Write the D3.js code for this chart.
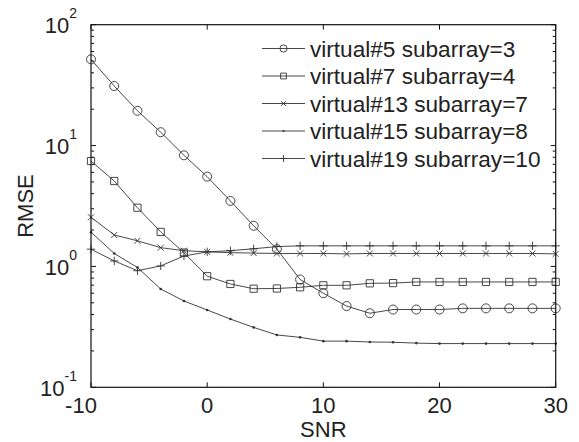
<!DOCTYPE html>
<html>
<head>
<meta charset="utf-8">
<script src="https://cdn.jsdelivr.net/npm/d3@7"></script>
<style>
  body { margin: 0; background: #fff; }
  svg { display: block; }
  text { font-family: "Liberation Sans", Arial, sans-serif; fill: #222; }
</style>
</head>
<body>
<svg id="chart"></svg>
<script>
// SNR values (dB)
const snr = [-10, -8, -6, -4, -2, 0, 2, 4, 6, 8, 10, 12, 14, 16, 18, 20, 22, 24, 26, 28, 30];

const v5s3 = [51.7, 31.1, 19.4, 12.9, 8.31, 5.53, 3.48, 2.17, 1.39, 0.78, 0.6, 0.47, 0.41, 0.44, 0.44, 0.44, 0.45, 0.45, 0.45, 0.45, 0.45];
const v7s4 = [7.45, 5.09, 3.06, 1.93, 1.30, 0.83, 0.716, 0.654, 0.657, 0.672, 0.698, 0.698, 0.725, 0.728, 0.744, 0.744, 0.744, 0.744, 0.744, 0.744, 0.744];
const v13s7 = [2.55, 1.82, 1.63, 1.43, 1.35, 1.32, 1.30, 1.29, 1.28, 1.28, 1.28, 1.27, 1.28, 1.28, 1.28, 1.28, 1.28, 1.28, 1.28, 1.28, 1.27];
const v15s8 = [1.92, 1.28, 0.98, 0.65, 0.518, 0.436, 0.367, 0.313, 0.271, 0.259, 0.241, 0.241, 0.237, 0.236, 0.232, 0.230, 0.230, 0.230, 0.230, 0.230, 0.230];
const v19s10 = [1.39, 1.11, 0.922, 1.01, 1.22, 1.32, 1.35, 1.40, 1.46, 1.48, 1.48, 1.48, 1.48, 1.48, 1.48, 1.48, 1.48, 1.48, 1.48, 1.48, 1.48];

const seriesNames = ['virtual#5 subarray=3', 'virtual#7 subarray=4', 'virtual#13 subarray=7', 'virtual#15 subarray=8', 'virtual#19 subarray=10'];
const seriesValues = [v5s3, v7s4, v13s7, v15s8, v19s10];
const markerKinds = ['circle', 'square', 'cross', 'dot', 'plus'];

const xTicks = [-10, 0, 10, 20, 30];
const yExponents = [-1, 0, 1, 2];

const width = 579;
const height = 442;
const margin = { left: 91, right: 23.3, top: 24.7, bottom: 54.7 };
const ink = '#333';
const fontSize = 22;

const svg = d3.select('#chart').attr('width', width).attr('height', height);

const x = d3.scaleLinear().domain([-10, 30]).range([margin.left, width - margin.right]);
const y = d3.scaleLog().domain([0.1, 100]).range([height - margin.bottom, margin.top]);

const x0 = x.range()[0], x1 = x.range()[1];
const y0 = y.range()[0], y1 = y.range()[1];

// marker shapes, centred on 0,0
const markerPath = (kind, s) => {
	switch (kind) {
		case 'square':
			return `M${-s},${-s}h${2 * s}v${2 * s}h${-2 * s}Z`;
		case 'cross':
			return `M${-s},${-s}L${s},${s}M${-s},${s}L${s},${-s}`;
		case 'plus':
			return `M${-s},0H${s}M0,${-s}V${s}`;
		default:
			return '';
	}
};

const drawMarker = (g, kind, scale) => {
	if (kind === 'circle') {
		g.append('circle').attr('r', 4.5 * scale).attr('fill', 'none').attr('stroke', ink).attr('stroke-width', 0.9);
	} else if (kind === 'dot') {
		g.append('circle').attr('r', 1.3 * scale).attr('fill', ink);
	} else {
		const size = { square: 3.6, cross: 3, plus: 4.2 }[kind] * scale;
		g.append('path').attr('d', markerPath(kind, size)).attr('fill', 'none').attr('stroke', ink).attr('stroke-width', 0.9);
	}
};

// ticks
const axes = svg.append('g').attr('stroke', '#111').attr('stroke-width', 1);

xTicks.forEach((t) => {
	axes.append('line').attr('x1', x(t)).attr('x2', x(t)).attr('y1', y0).attr('y2', y0 - 5);
	axes.append('line').attr('x1', x(t)).attr('x2', x(t)).attr('y1', y1).attr('y2', y1 + 5);
});

yExponents.forEach((e) => {
	const base = Math.pow(10, e);
	axes.append('line').attr('x1', x0).attr('x2', x0 + 5).attr('y1', y(base)).attr('y2', y(base));
	axes.append('line').attr('x1', x1).attr('x2', x1 - 5).attr('y1', y(base)).attr('y2', y(base));
	if (e < 2) {
		for (let m = 2; m <= 9; m++) {
			const v = m * base;
			axes.append('line').attr('x1', x0).attr('x2', x0 + 3).attr('y1', y(v)).attr('y2', y(v));
			axes.append('line').attr('x1', x1).attr('x2', x1 - 3).attr('y1', y(v)).attr('y2', y(v));
		}
	}
});

// series lines and markers
const line = d3.line()
	.x((d, i) => x(snr[i]))
	.y((d) => y(d));

seriesValues.forEach((vals, k) => {
	svg.append('path')
		.attr('d', line(vals))
		.attr('fill', 'none')
		.attr('stroke', ink)
		.attr('stroke-width', 0.9);

	svg.append('g')
		.selectAll('g')
		.data(vals)
		.enter()
		.append('g')
		.attr('transform', (d, i) => `translate(${x(snr[i])},${y(d)})`)
		.each(function () {
			drawMarker(d3.select(this), markerKinds[k], 1);
		});
});

// box
svg.append('rect')
	.attr('x', x0).attr('y', y1)
	.attr('width', x1 - x0).attr('height', y0 - y1)
	.attr('fill', 'none').attr('stroke', '#111').attr('stroke-width', 1.2);

// tick labels
xTicks.forEach((t) => {
	svg.append('text')
		.attr('x', x(t) + (t < 0 ? -10 : 0))
		.attr('y', y0 + 26)
		.attr('text-anchor', 'middle')
		.attr('font-size', fontSize)
		.text(t);
});

yExponents.forEach((e) => {
	const lbl = svg.append('text')
		.attr('x', x0 - 14)
		.attr('y', y(Math.pow(10, e)) + 8.5)
		.attr('text-anchor', 'end')
		.attr('font-size', fontSize);
	lbl.append('tspan').text('10');
	lbl.append('tspan').attr('dy', -15).attr('font-size', 14).text(e);
});

// axis titles
svg.append('text')
	.attr('x', (x0 + x1) / 2)
	.attr('y', y0 + 50)
	.attr('text-anchor', 'middle')
	.attr('font-size', fontSize)
	.text('SNR');

svg.append('text')
	.attr('transform', `translate(33,${(y0 + y1) / 2}) rotate(-90)`)
	.attr('text-anchor', 'middle')
	.attr('font-size', fontSize)
	.text('RMSE');

// legend
const legend = svg.append('g');
seriesNames.forEach((name, k) => {
	const ly = 48.5 + k * 27.5;
	legend.append('line')
		.attr('x1', 262).attr('x2', 305)
		.attr('y1', ly).attr('y2', ly)
		.attr('stroke', ink).attr('stroke-width', 0.9);
	drawMarker(legend.append('g').attr('transform', `translate(283.5,${ly})`), markerKinds[k], 0.8);
	legend.append('text')
		.attr('x', 310)
		.attr('y', ly + 8)
		.attr('font-size', 22.6)
		.text(name);
});
</script>
</body>
</html>
